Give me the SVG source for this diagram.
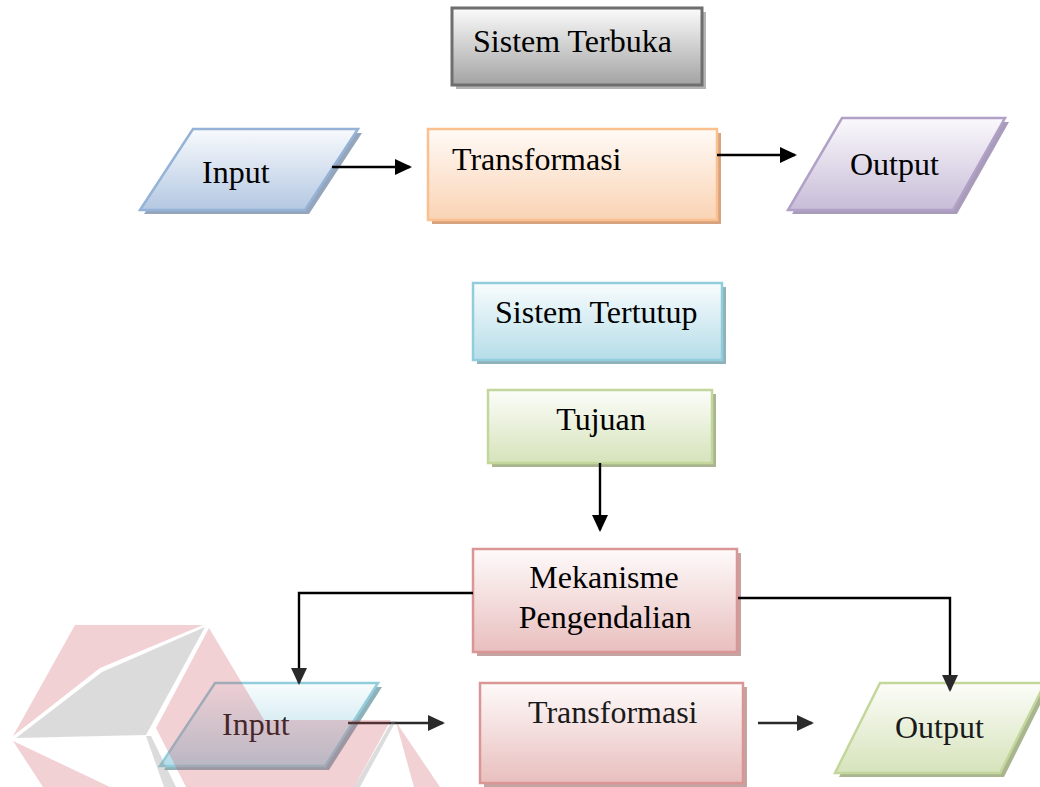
<svg xmlns="http://www.w3.org/2000/svg" width="1040" height="787" viewBox="0 0 1040 787">
<style>
text{font-family:"Liberation Serif","Times New Roman",serif;font-size:32px;fill:#000}
.low text{fill:#1a1a1a}
.conn{fill:none;stroke:#000;stroke-width:2.4}
.sh{stroke:none}
</style>
<defs>
<linearGradient id="gGrey" x1="0" y1="0" x2="0" y2="1"><stop offset="0" stop-color="#fbfbfb"/><stop offset="1" stop-color="#a3a3a3"/></linearGradient>
<linearGradient id="gBlue" x1="0" y1="0" x2="0" y2="1"><stop offset="0" stop-color="#f8fafd"/><stop offset="1" stop-color="#b4c8e2"/></linearGradient>
<linearGradient id="gOrange" x1="0" y1="0" x2="0" y2="1"><stop offset="0" stop-color="#fffaf6"/><stop offset="1" stop-color="#fad3b4"/></linearGradient>
<linearGradient id="gPurple" x1="0" y1="0" x2="0" y2="1"><stop offset="0" stop-color="#faf9fc"/><stop offset="1" stop-color="#c8bcd8"/></linearGradient>
<linearGradient id="gCyan" x1="0" y1="0" x2="0" y2="1"><stop offset="0" stop-color="#f8fcfd"/><stop offset="1" stop-color="#b5dde8"/></linearGradient>
<linearGradient id="gGreen" x1="0" y1="0" x2="0" y2="1"><stop offset="0" stop-color="#fcfdf9"/><stop offset="1" stop-color="#d6e3bb"/></linearGradient>
<linearGradient id="gRed" x1="0" y1="0" x2="0" y2="1"><stop offset="0" stop-color="#fefafa"/><stop offset="1" stop-color="#e8bfbe"/></linearGradient>
<marker id="ah" markerUnits="userSpaceOnUse" markerWidth="18" markerHeight="16" refX="15" refY="8" orient="auto"><path d="M0,0 L17,8 L0,16 z" fill="#000"/></marker>
<marker id="ah2" markerUnits="userSpaceOnUse" markerWidth="18" markerHeight="16" refX="15" refY="8" orient="auto"><path d="M0,0 L17,8 L0,16 z" fill="#2a2a2a"/></marker>
</defs>

<g id="sistem-terbuka">
<rect class="sh" x="456" y="12" width="250" height="77" fill="#b4b4b4"/>
<rect x="452" y="8" width="250" height="77" fill="url(#gGrey)" stroke="#6e6e6e" stroke-width="3"/>
<text x="473" y="52">Sistem Terbuka</text>
</g>

<g id="input-top">
<polygon class="sh" points="197,133 362,133 309,214 144,214" fill="#95a5bc"/>
<polygon points="193,129 358,129 305,210 140,210" fill="url(#gBlue)" stroke="#95b3d7" stroke-width="2.5"/>
<text x="202" y="183">Input</text>
</g>

<g id="transformasi-top">
<rect class="sh" x="432" y="133" width="289" height="91" fill="#d7a37f"/>
<rect x="428" y="129" width="289" height="91" fill="url(#gOrange)" stroke="#fac08f" stroke-width="2.5"/>
<text x="452" y="170">Transformasi</text>
</g>

<g id="output-top">
<polygon class="sh" points="846,122 1009,122 957,214 792,214" fill="#a99cbb"/>
<polygon points="842,118 1005,118 953,210 788,210" fill="url(#gPurple)" stroke="#b2a1c7" stroke-width="2.5"/>
<text x="850" y="175">Output</text>
</g>

<g id="sistem-tertutup">
<rect class="sh" x="477" y="287" width="249" height="77" fill="#8fb1ba"/>
<rect x="473" y="283" width="249" height="77" fill="url(#gCyan)" stroke="#92cddc" stroke-width="2.5"/>
<text x="495" y="323">Sistem Tertutup</text>
</g>

<g id="tujuan">
<rect class="sh" x="492" y="394" width="224" height="73" fill="#a9b58f"/>
<rect x="488" y="390" width="224" height="73" fill="url(#gGreen)" stroke="#c3d69b" stroke-width="2.5"/>
<text x="601" y="430" text-anchor="middle">Tujuan</text>
</g>

<g id="mekanisme">
<rect class="sh" x="477" y="553" width="264" height="103" fill="#c4a3a3"/>
<rect x="473" y="549" width="264" height="103" fill="url(#gRed)" stroke="#d99694" stroke-width="2.5"/>
<text x="604" y="588" text-anchor="middle">Mekanisme</text>
<text x="605" y="628" text-anchor="middle">Pengendalian</text>
</g>

<g id="input-bottom" class="low">
<polygon class="sh" points="219,687 382,687 329,770 164,770" fill="#8fb1ba"/>
<polygon points="215,683 378,683 325,766 160,766" fill="url(#gCyan)" stroke="#92cddc" stroke-width="2.5"/>
<text x="222" y="735">Input</text>
</g>

<g id="transformasi-bottom" class="low">
<rect class="sh" x="484" y="687" width="263" height="104" fill="#c4a3a3"/>
<rect x="480" y="683" width="263" height="100" fill="url(#gRed)" stroke="#d99694" stroke-width="2.5"/>
<text x="528" y="723">Transformasi</text>
</g>

<g id="output-bottom" class="low">
<polygon class="sh" points="884,687 1049,687 1004,777 839,777" fill="#a9b58f"/>
<polygon points="880,683 1045,683 1000,773 835,773" fill="url(#gGreen)" stroke="#c3d69b" stroke-width="2.5"/>
<text x="895" y="738">Output</text>
</g>

<g id="connectors">
<line class="conn" x1="332" y1="167" x2="410" y2="167" marker-end="url(#ah)"/>
<line class="conn" x1="717" y1="155" x2="795" y2="155" marker-end="url(#ah)"/>
<line class="conn" x1="600" y1="463" x2="600" y2="530" marker-end="url(#ah)"/>
<path class="conn" d="M473,593 H299 V683" marker-end="url(#ah2)"/>
<path class="conn" d="M738,598 H950 V690" marker-end="url(#ah2)"/>
<line class="conn" x1="348" y1="723" x2="443" y2="723" stroke="#2a2a2a" style="stroke:#2a2a2a" marker-end="url(#ah2)"/>
<line class="conn" x1="758" y1="723" x2="812" y2="723" style="stroke:#2a2a2a" marker-end="url(#ah2)"/>
</g>

<g id="watermark">
<g fill="#cc4a5a" opacity="0.25">
<polygon points="75,625 203,625 100,668 13,736"/>
<polygon points="209,628 264,720 200,720 200,787 186,787 156,728"/>
<polygon points="13,741 43,787 110,787"/>
<polygon points="200,720 391,720 354,787 200,787"/>
<polygon points="396,722 440,787 414,787"/>
</g>
<g fill="#999999" opacity="0.34">
<polygon points="16,738 102,672 205,627 146,735"/>
<polygon points="146,736 151,736 176,787 164,787"/>
<polygon points="392,721 396,721 360,787 354,787"/>
</g>
</g>
</svg>
